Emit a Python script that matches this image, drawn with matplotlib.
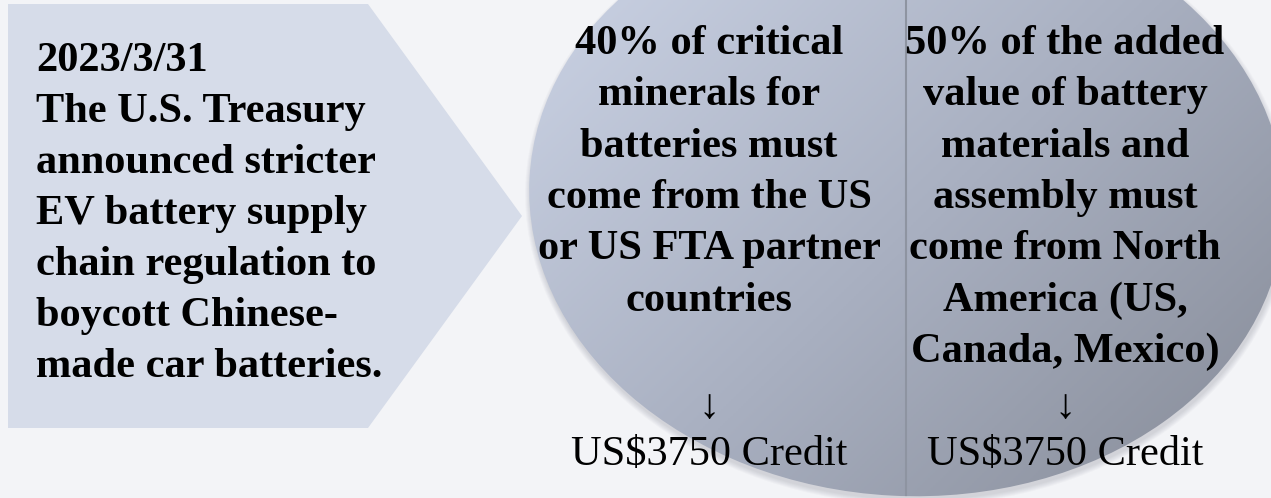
import matplotlib
matplotlib.use("Agg")
import matplotlib.pyplot as plt
import numpy as np
from matplotlib.patches import Polygon, Ellipse
from matplotlib.colors import LinearSegmentedColormap

## text content
date_line = "2023/3/31"
left_lines = ["The U.S. Treasury", "announced stricter", "EV battery supply",
              "chain regulation to", "boycott Chinese-", "made car batteries."]
col1_lines = ["40% of critical", "minerals for", "batteries must",
              "come from the US", "or US FTA partner", "countries"]
col2_lines = ["50% of the added", "value of battery", "materials and",
              "assembly must", "come from North", "America (US,", "Canada, Mexico)"]
credits = ["US$3750 Credit", "US$3750 Credit"]

bg = "#f3f4f7"
fig = plt.figure(figsize=(12.71, 4.98), dpi=100, facecolor=bg)
ax = fig.add_axes([0, 0, 1, 1])
ax.set_xlim(0, 1271)
ax.set_ylim(498, 0)
ax.axis("off")

# chevron box on the left
ax.add_patch(Polygon([(8, 4), (368, 4), (522, 216), (368, 428), (8, 428)],
                     closed=True, facecolor="#d6dce9", edgecolor="none"))

# big oval, slightly tilted
cx, cy, r1, r2, ang = 907, 198, 378, 298, 3

# soft shadow
for k in range(6):
    ax.add_patch(Ellipse((cx + 1, cy + 4), 2*r1 + k*2, 2*r2 + k*2, angle=ang,
                         facecolor="#55596a", edgecolor="none", alpha=0.035))

ell = Ellipse((cx, cy), 2*r1, 2*r2, angle=ang, facecolor="none", edgecolor="none")
ax.add_patch(ell)
cmap = LinearSegmentedColormap.from_list("g", ["#cad2e4", "#a8afc0", "#858a96"])
gx, gy = np.meshgrid(np.linspace(0, 1, 300), np.linspace(0, 1, 200))
im = ax.imshow(gx*0.6 + gy*0.4, cmap=cmap, extent=(520, 1290, 498, 0),
               aspect="auto", zorder=2)
im.set_clip_path(ell)
ax.set_xlim(0, 1271)
ln, = ax.plot([906, 906], [0, 498], color="#8e94a1", lw=1.5, zorder=3)
ln.set_clip_path(ell)

serif = "Liberation Serif"
fs = 30.5
ax.text(36, 71, date_line, fontsize=fs, fontweight="bold", family=serif, va="baseline")
for i, s in enumerate(left_lines):
    ax.text(36, 122 + i*51, s, fontsize=fs, fontweight="bold", family=serif, va="baseline")
for i, s in enumerate(col1_lines):
    ax.text(709, 54 + i*51.3, s, fontsize=fs, fontweight="bold", family=serif,
            va="baseline", ha="center", zorder=4)
for i, s in enumerate(col2_lines):
    ax.text(1065, 54 + i*51.3, s, fontsize=fs, fontweight="bold", family=serif,
            va="baseline", ha="center", zorder=4)
for xc, s in zip([709, 1065], credits):
    ax.text(xc, 418, "\u2193", fontsize=fs, family=serif, va="baseline", ha="center", zorder=4)
    ax.text(xc, 465, s, fontsize=fs, family=serif, va="baseline", ha="center", zorder=4)

fig.savefig("out.png", dpi=100, facecolor=bg)
